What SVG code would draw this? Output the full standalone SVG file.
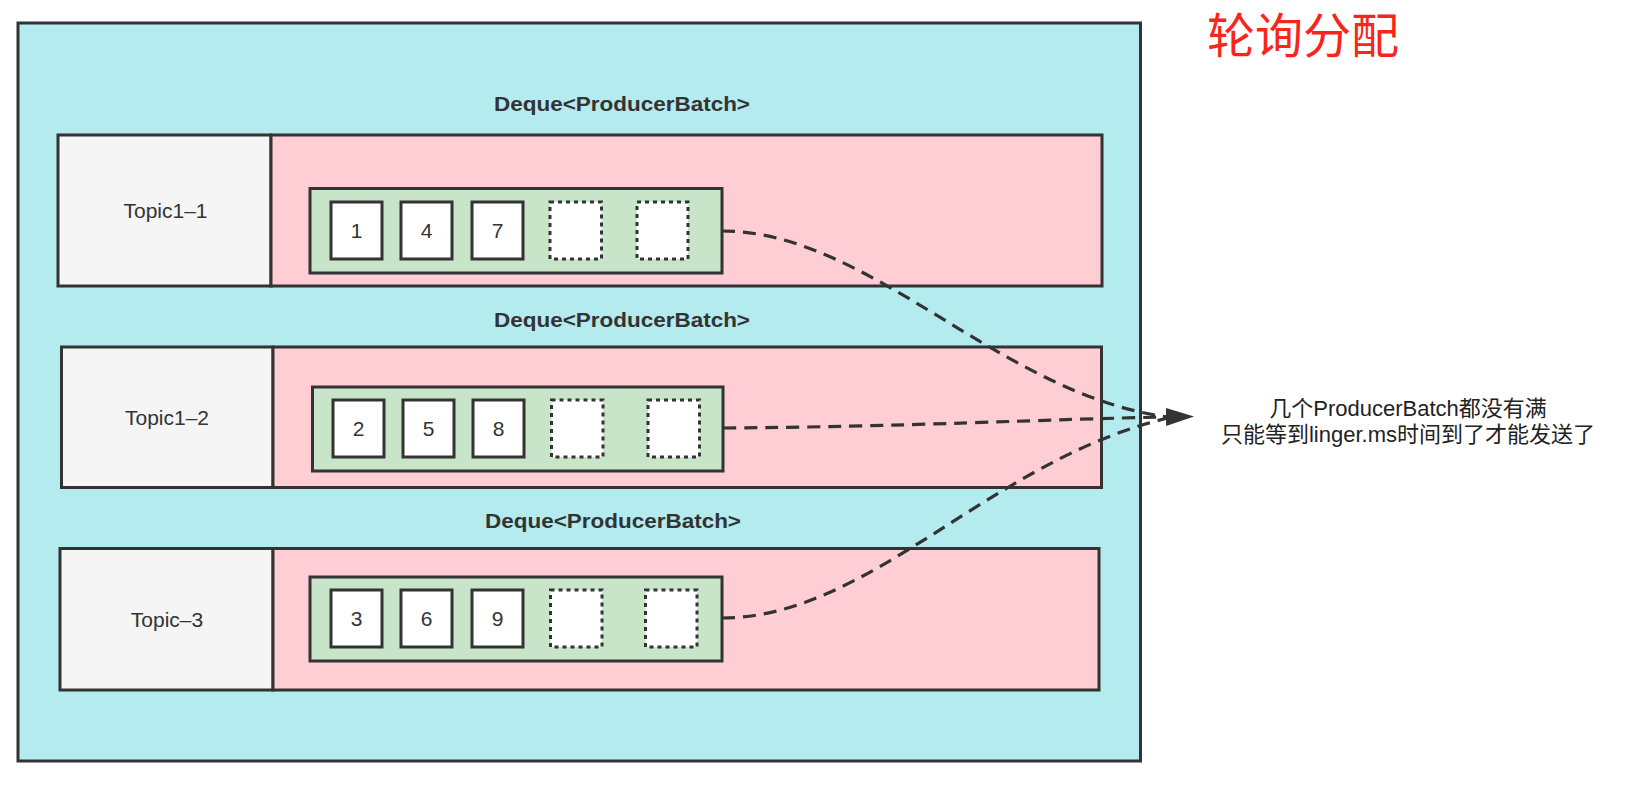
<svg xmlns="http://www.w3.org/2000/svg" width="1638" height="806" viewBox="0 0 1638 806">
<style>
.outer{fill:#b3ebee;stroke:#333;stroke-width:3}
.topic{fill:#f5f5f5;stroke:#333;stroke-width:3}
.pink{fill:#ffcdd4;stroke:#333;stroke-width:3}
.green{fill:#c8e5ca;stroke:#333;stroke-width:3}
.box{fill:#fff;stroke:#333;stroke-width:3}
.dbox{fill:#fff;stroke:#333;stroke-width:3;stroke-dasharray:4 4}
.t{font-family:"Liberation Sans",Arial,sans-serif;fill:#333;text-anchor:middle}
.num{font-size:21px}
.topict{font-size:21px}
.deque{font-size:20px;font-weight:bold}
.note{font-family:"Liberation Sans","Noto Sans CJK SC",sans-serif;font-size:22px;fill:#222;text-anchor:middle}
.title{font-family:"Noto Sans CJK SC",sans-serif;font-size:48px;fill:#f8261a;text-anchor:middle}
.conn{fill:none;stroke:#333;stroke-width:3.2;stroke-dasharray:13 8}
</style>
<defs>
<marker id="arrow" markerUnits="userSpaceOnUse" markerWidth="30" markerHeight="20" refX="2" refY="9" orient="auto">
<path d="M0,0 L28,9 L0,18 Z" fill="#333"/>
</marker>
</defs>
<rect width="1638" height="806" fill="#fff"/>
<g id="container">
<rect class="outer" x="18" y="23" width="1122.5" height="738"/>
</g>
<text class="title" x="1303" y="53">轮询分配</text>

<g id="row1">
<text class="t deque" x="622" y="111" textLength="256" lengthAdjust="spacingAndGlyphs">Deque&lt;ProducerBatch&gt;</text>
<rect class="topic" x="58" y="135" width="213" height="151"/>
<text class="t topict" x="165.5" y="218">Topic1–1</text>
<rect class="pink" x="271" y="135" width="831" height="151"/>
<rect class="green" x="310" y="188.5" width="412" height="84.5"/>
<rect class="box" x="331" y="202" width="51" height="57"/>
<text class="t num" x="356.5" y="238">1</text>
<rect class="box" x="401" y="202" width="51" height="57"/>
<text class="t num" x="426.5" y="238">4</text>
<rect class="box" x="472" y="202" width="51" height="57"/>
<text class="t num" x="497.5" y="238">7</text>
<rect class="dbox" x="550" y="202" width="51.5" height="57"/>
<rect class="dbox" x="637" y="202" width="51" height="57"/>
</g>

<g id="row2">
<text class="t deque" x="622" y="327" textLength="256" lengthAdjust="spacingAndGlyphs">Deque&lt;ProducerBatch&gt;</text>
<rect class="topic" x="61.5" y="347" width="211.5" height="140.5"/>
<text class="t topict" x="167" y="424.5">Topic1–2</text>
<rect class="pink" x="273" y="347" width="828.5" height="140.5"/>
<rect class="green" x="312.5" y="387" width="410.5" height="84"/>
<rect class="box" x="333" y="400" width="51" height="57"/>
<text class="t num" x="358.5" y="436">2</text>
<rect class="box" x="403" y="400" width="51" height="57"/>
<text class="t num" x="428.5" y="436">5</text>
<rect class="box" x="473" y="400" width="51" height="57"/>
<text class="t num" x="498.5" y="436">8</text>
<rect class="dbox" x="551.5" y="400" width="51.5" height="57"/>
<rect class="dbox" x="648" y="400" width="51.5" height="57"/>
</g>

<g id="row3">
<text class="t deque" x="613" y="528" textLength="256" lengthAdjust="spacingAndGlyphs">Deque&lt;ProducerBatch&gt;</text>
<rect class="topic" x="60" y="548.5" width="213" height="141.5"/>
<text class="t topict" x="167" y="626.5">Topic–3</text>
<rect class="pink" x="273" y="548.5" width="826" height="141.5"/>
<rect class="green" x="310" y="577" width="412" height="84"/>
<rect class="box" x="331" y="590" width="51" height="57"/>
<text class="t num" x="356.5" y="626">3</text>
<rect class="box" x="401" y="590" width="51" height="57"/>
<text class="t num" x="426.5" y="626">6</text>
<rect class="box" x="472" y="590" width="51" height="57"/>
<text class="t num" x="497.5" y="626">9</text>
<rect class="dbox" x="550.5" y="590" width="51.5" height="57"/>
<rect class="dbox" x="645.5" y="590" width="51.5" height="57"/>
</g>

<g id="connectors">
<path class="conn" d="M722,231 C870,231 1000,395 1168,417"/>
<path class="conn" d="M723,428 C900,427 1050,419 1168,417" marker-end="url(#arrow)"/>
<path class="conn" d="M722,618 C870,618 990,460 1168,418"/>
</g>

<g id="note">
<text class="note" x="1408" y="416">几个ProducerBatch都没有满</text>
<text class="note" x="1408" y="442">只能等到linger.ms时间到了才能发送了</text>
</g>
</svg>
